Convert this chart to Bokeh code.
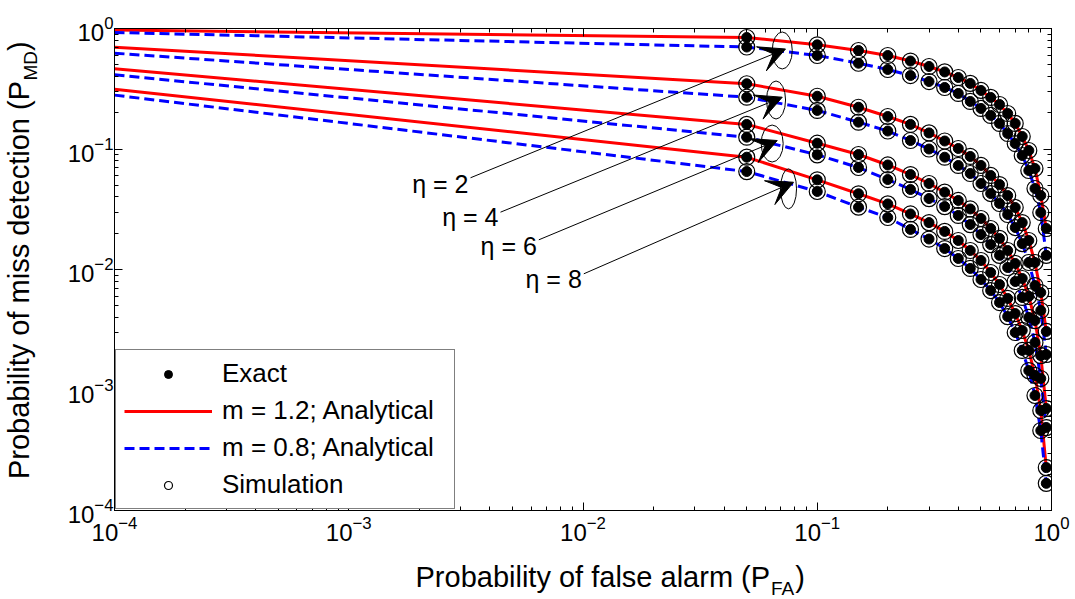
import numpy as np
from bokeh.plotting import figure
from bokeh.models import (LogAxis, Legend, LegendItem, Label, Arrow, VeeHead,
                          ColumnDataSource, Range1d, LogTicker, CustomJSTickFormatter)
from bokeh.embed import file_html
from bokeh.resources import INLINE

# Probability of false alarm: first entry only anchors the analytical curves,
# markers are drawn from 0.05 upwards.
pfa = [1e-4, 0.05, 0.10, 0.15, 0.20, 0.25, 0.30, 0.35, 0.40, 0.45, 0.50,
       0.55, 0.60, 0.65, 0.70, 0.75, 0.80, 0.85, 0.90, 0.95]

# Probability of miss detection, m = 1.2
pmd_m12_eta2 = [0.972, 0.842, 0.732, 0.657, 0.597, 0.537, 0.484, 0.436, 0.392, 0.350,
                0.306, 0.268, 0.234, 0.197, 0.163, 0.127, 0.0972, 0.0689, 0.0411, 0.0219]
pmd_m12_eta4 = [0.700, 0.348, 0.274, 0.222, 0.186, 0.160, 0.136, 0.1165, 0.101, 0.0867,
                0.0730, 0.0603, 0.0507, 0.0411, 0.0327, 0.0245, 0.0174, 0.01143, 0.00644, 0.00306]
pmd_m12_eta6 = [0.463, 0.160, 0.1117, 0.0900, 0.0737, 0.0614, 0.0517, 0.0438, 0.0374, 0.0318,
                0.0265, 0.0219, 0.0181, 0.01438, 0.01122, 0.00842, 0.00597, 0.00377, 0.00193, 0.000702]
pmd_m12_eta8 = [0.313, 0.0855, 0.0555, 0.0425, 0.0350, 0.0289, 0.0245, 0.0207, 0.0174, 0.01438,
                0.01188, 0.00944, 0.00751, 0.00575, 0.00431, 0.00312, 0.00213, 0.00132, 0.000676, 0.000227]

# Probability of miss detection, m = 0.8
pmd_m08_eta2 = [0.926, 0.702, 0.597, 0.515, 0.457, 0.407, 0.363, 0.324, 0.289, 0.248,
                0.217, 0.190, 0.163, 0.1345, 0.111, 0.0883, 0.0663, 0.0470, 0.0297, 0.0131]
pmd_m08_eta4 = [0.624, 0.269, 0.209, 0.167, 0.141, 0.1176, 0.100, 0.0855, 0.0730, 0.0626,
                0.0517, 0.0427, 0.0353, 0.0286, 0.0223, 0.0164, 0.01143, 0.00736, 0.00457, 0.00197]
pmd_m08_eta6 = [0.413, 0.1253, 0.0895, 0.0702, 0.0558, 0.0461, 0.0388, 0.0333, 0.0281, 0.0236,
                0.0195, 0.0161, 0.0131, 0.01039, 0.00795, 0.00586, 0.00400, 0.00248, 0.001246, 0.000488]
pmd_m08_eta8 = [0.280, 0.0650, 0.0444, 0.0329, 0.0270, 0.0215, 0.0179, 0.01493, 0.01234, 0.0102,
                0.00826, 0.00669, 0.00532, 0.00407, 0.0030, 0.00213, 0.00145, 0.0009, 0.000461, 0.000168]

eta_labels = ["\u03b7 = 2", "\u03b7 = 4", "\u03b7 = 6", "\u03b7 = 8"]

curves_m12 = [pmd_m12_eta2, pmd_m12_eta4, pmd_m12_eta6, pmd_m12_eta8]
curves_m08 = [pmd_m08_eta2, pmd_m08_eta4, pmd_m08_eta6, pmd_m08_eta8]

FONT = "Liberation Sans"

p = figure(width=1075, height=599, x_axis_type="log", y_axis_type="log",
           x_range=Range1d(1e-4, 1), y_range=Range1d(1e-4, 1),
           output_backend="svg", toolbar_location=None,
           min_border_left=114, min_border_right=24, min_border_top=28,
           min_border_bottom=89)
p.grid.visible = False
p.outline_line_color = "black"
p.outline_line_width = 1
p.background_fill_color = "white"
p.border_fill_color = "white"

# mirrored axes on top and right, ticks only
blank = CustomJSTickFormatter(code="return ''")
p.add_layout(LogAxis(formatter=blank), "above")
p.add_layout(LogAxis(formatter=blank), "right")

for ax in p.axis:
    ax.ticker = LogTicker(desired_num_ticks=5, num_minor_ticks=10)
    ax.major_tick_in = 8
    ax.major_tick_out = 0
    ax.minor_tick_in = 4
    ax.minor_tick_out = 0
    ax.axis_line_color = "black"
    ax.major_tick_line_color = "black"
    ax.minor_tick_line_color = "black"
    ax.major_label_text_font = FONT
    ax.major_label_text_font_size = "24px"
    ax.major_label_text_color = "black"
for ax in p.above + p.right:
    ax.major_label_text_font_size = "1px"
    ax.major_label_standoff = 0
p.xaxis[0].major_label_standoff = 8
p.yaxis[0].major_label_standoff = 1

# analytical curves
xs_line = [pfa] * 4
red = p.multi_line(xs=xs_line, ys=curves_m12, line_color="#ff0000", line_width=3)
blue = p.multi_line(xs=xs_line, ys=curves_m08, line_color="#0000ff", line_width=3,
                    line_dash="10 5")

# exact values and simulation markers
mk_x, mk_y = [], []
for c in curves_m12 + curves_m08:
    mk_x.extend(pfa[1:])
    mk_y.extend(c[1:])
mk_src = ColumnDataSource(dict(x=mk_x, y=mk_y))
dots = p.scatter("x", "y", source=mk_src, marker="circle", size=10,
                 fill_color="black", line_color="black")
rings = p.scatter("x", "y", source=mk_src, marker="circle", size=16,
                  fill_color=None, line_color="black", line_width=1.2)

# ellipses grouping each pair of curves
ell_x = [0.0709, 0.0667, 0.0642, 0.0754]
ell_y = [0.657, 0.255, 0.111, 0.0467]
ell_w = [20, 19, 22, 16]
ell_h = [37, 38, 37, 40]
p.ellipse(x=ell_x, y=ell_y, width=ell_w, height=ell_h, width_units="screen",
          height_units="screen", fill_color=None, line_color="black", line_width=1)

# callout arrows and labels
arr_x0 = [0.00331, 0.004444, 0.006478, 0.01008]
arr_y0 = [0.0577, 0.0299, 0.01764, 0.00921]
arr_x1 = [0.0732, 0.0709, 0.0675, 0.0792]
arr_y1 = [0.676, 0.269, 0.1176, 0.0530]
lab_y = [0.0438, 0.0236, 0.01332, 0.00722]
for i in range(4):
    p.add_layout(Arrow(end=VeeHead(size=26, fill_color="black", line_color="black",
                                   line_width=1),
                       x_start=arr_x0[i], y_start=arr_y0[i],
                       x_end=arr_x1[i], y_end=arr_y1[i],
                       line_color="black", line_width=1))
    p.add_layout(Label(x=arr_x0[i], y=lab_y[i], x_offset=-2, y_offset=8,
                       text=eta_labels[i], text_align="right",
                       text_baseline="alphabetic", text_font=FONT,
                       text_font_size="25px", text_color="black"))

# axis titles with subscripts, kept in the side panels so they are not clipped
def add_text(place, x, y, text, size, align="left", angle=0.0, dx=0, dy=0):
    p.add_layout(Label(x=x, y=y, x_offset=dx, y_offset=dy, text=text, text_font=FONT,
                       text_font_size=size, text_align=align,
                       text_baseline="alphabetic", angle=angle,
                       text_color="black"), place)

add_text("below", 10 ** -1.2013, 10 ** -4.639, "Probability of false alarm (P", "29px",
         "right", dy=10)
add_text("right", 10 ** -1.1974, 10 ** -4.705, "FA", "19px", dy=7)
add_text("left", 10 ** -1.0937, 10 ** -4.639, ")", "29px", dy=10)

add_text("left", 10 ** -4.3629, 10 ** -0.4357, "Probability of miss detection (P", "29px",
         "right", np.pi / 2, dx=-10)
add_text("left", 10 ** -4.3287, 10 ** -0.4315, "MD", "19px", "left", np.pi / 2, dx=-7)
add_text("above", 10 ** -4.3629, 10 ** -0.1867, ")", "29px", "left", np.pi / 2, dx=-10)

legend = Legend(items=[
    LegendItem(label="Exact", renderers=[dots]),
    LegendItem(label="m = 1.2; Analytical", renderers=[red]),
    LegendItem(label="m = 0.8; Analytical", renderers=[blue]),
    LegendItem(label="Simulation", renderers=[rings]),
], location=(1, 1), margin=0, padding=8, spacing=6, glyph_width=88,
    label_standoff=10, label_width=224, label_text_font=FONT,
    label_text_font_size="26px", label_text_color="black",
    border_line_color="black", border_line_width=1, background_fill_alpha=1.0)
p.add_layout(legend)

open("out.html", "w").write(file_html(p, INLINE))
